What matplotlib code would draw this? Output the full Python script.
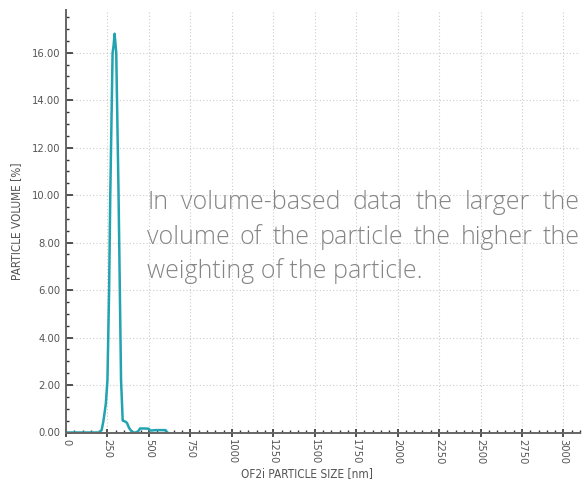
import matplotlib
matplotlib.use("Agg")
from matplotlib import pyplot as plt
from matplotlib.ticker import MultipleLocator, FormatStrFormatter

# particle size [nm] and volume share [%]
size_nm = [0, 100, 200, 215, 226, 240, 250, 260, 267, 281, 287, 293, 303, 317,
           332, 342, 350, 360, 368, 380, 395, 407, 420, 435, 447, 470, 498, 510,
           540, 570, 600, 612]
volume_pct = [0, 0, 0, 0.1, 0.5, 1.2, 2.2, 6.0, 10.0, 16.0, 16.3, 16.8, 16.0,
              10.0, 2.2, 0.5, 0.48, 0.45, 0.4, 0.2, 0.05, 0.0, 0.0, 0.05, 0.17,
              0.17, 0.16, 0.08, 0.1, 0.1, 0.1, 0.0]

note_lines = ["In volume-based data the larger the",
              "volume of the particle the higher the",
              "weighting of the particle."]

label_color = "#555555"
grid_color = "#cccccc"
curve_color = "#22a3b0"
cond = dict(fontstretch="condensed", family="DejaVu Sans")

fig = plt.figure(figsize=(5.85, 4.83), dpi=100)
ax = fig.add_axes([66 / 585, 1 - 432.5 / 483, 514 / 585, 422.5 / 483])

ax.plot(size_nm, volume_pct, color=curve_color, linewidth=1.8,
        solid_joinstyle="round")

ax.set_xlim(0, 3100)
ax.set_ylim(0, 17.8)
ax.xaxis.set_major_locator(MultipleLocator(250))
ax.xaxis.set_minor_locator(MultipleLocator(50))
ax.yaxis.set_major_locator(MultipleLocator(2))
ax.yaxis.set_minor_locator(MultipleLocator(0.5))
ax.yaxis.set_major_formatter(FormatStrFormatter("%.2f"))

ax.grid(True, which="major", color=grid_color, linestyle=(0, (1, 2)),
        linewidth=0.8)
ax.set_axisbelow(True)

for side in ["top", "right"]:
    ax.spines[side].set_visible(False)
for side in ["left", "bottom"]:
    ax.spines[side].set_color("#666666")
    ax.spines[side].set_linewidth(1.4)

ax.tick_params(which="major", direction="in", length=5, width=1.2,
               color="#333333", labelcolor=label_color, labelsize=8, pad=4)
ax.tick_params(which="minor", direction="in", length=2.5, width=1.0,
               color="#333333")
ax.tick_params(axis="x", which="major", direction="inout", length=6, pad=2)

for lab in ax.get_xticklabels():
    lab.set_rotation(270)
    lab.set_fontstretch("condensed")
for lab in ax.get_yticklabels():
    lab.set_fontstretch("condensed")

ax.set_xlabel("OF2i PARTICLE SIZE [nm]", color=label_color, fontsize=8.5,
              **cond)
ax.xaxis.set_label_coords(0.469, -0.082)
ax.set_ylabel("PARTICLE VOLUME [%]", color=label_color, fontsize=8.5, **cond)
ax.yaxis.set_label_coords(-0.084, 0.5)

# justified note text
fig.canvas.draw()
renderer = fig.canvas.get_renderer()
x0, x1 = 147, 580
baselines = [209, 244, 278]
font = dict(family="Open Sans", fontsize=18, color="#858585",
            fontweight="light")
for k, line in enumerate(note_lines):
    y = 1 - baselines[k] / 483
    words = line.split()
    if k == len(note_lines) - 1:
        fig.text(x0 / 585, y, line, ha="left", va="baseline", **font)
        continue
    widths = []
    for w in words:
        t = fig.text(0, 0, w, **font)
        widths.append(t.get_window_extent(renderer).width)
        t.remove()
    gap = max((x1 - x0 - sum(widths)) / (len(words) - 1), 3)
    x = x0
    for w, wd in zip(words, widths):
        fig.text(x / 585, y, w, ha="left", va="baseline", **font)
        x += wd + gap

fig.savefig("out.png", dpi=100)
